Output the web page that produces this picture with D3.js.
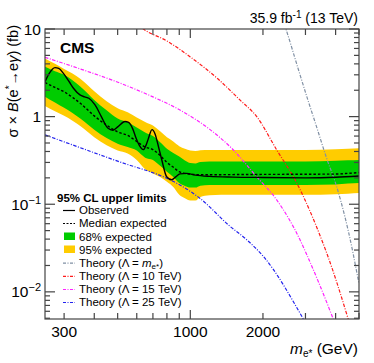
<!DOCTYPE html>
<html><head><meta charset="utf-8">
<script src="https://cdn.jsdelivr.net/npm/d3@7"></script>
<style>
html,body{margin:0;padding:0;background:#fff;}
svg{display:block;font-family:"Liberation Sans",Arial,Helvetica,sans-serif;}
</style></head>
<body>
<svg id="c" width="374" height="363"></svg>
<script>
// ---- data ----
const massExp = [250,275,300,325,350,375,400,450,500,550,600,650,700,750,800,850,900,950,1000,1050,1100,1200,1500,2000,3000,4000,4500,5000];
const expMedian = [2.45,2.15,1.92,1.66,1.42,1.2,1.02,0.80,0.67,0.61,0.52,0.45,0.42,0.36,0.30,0.265,0.235,0.225,0.22,0.218,0.217,0.217,0.218,0.219,0.22,0.221,0.225,0.23];
const exp68Up = [3.7,3.3,3.0,2.6,2.2,1.85,1.55,1.18,0.95,0.86,0.75,0.66,0.60,0.51,0.43,0.385,0.35,0.315,0.295,0.292,0.303,0.308,0.308,0.308,0.308,0.313,0.317,0.32];
const exp68Down = [1.69,1.45,1.26,1.10,0.95,0.82,0.71,0.57,0.49,0.45,0.41,0.34,0.32,0.275,0.235,0.205,0.175,0.162,0.155,0.155,0.163,0.166,0.166,0.166,0.166,0.168,0.172,0.175];
const exp95Up = [4.6,4.0,3.5,3.1,2.7,2.3,1.95,1.5,1.25,1.12,0.98,0.87,0.79,0.68,0.58,0.52,0.46,0.43,0.41,0.405,0.413,0.417,0.417,0.417,0.417,0.425,0.43,0.435];
const exp95Down = [1.32,1.15,1.02,0.9,0.78,0.67,0.58,0.47,0.41,0.38,0.32,0.25,0.225,0.205,0.18,0.157,0.128,0.117,0.11,0.11,0.121,0.127,0.128,0.128,0.128,0.13,0.132,0.134];

const massObs = [250,260,275,285,298,315,328,349,365,380,403,428,455,478,502,536,555,578,593,615,639,655,670,694,715,738,762,798,838,870,906,966,1050,1200,1500,2000,3000,4000,5000];
const observed = [2.5,3.1,3.62,3.55,3.12,2.5,2.11,1.77,1.68,1.62,1.36,1.0,0.74,0.70,0.77,0.88,0.86,0.72,0.59,0.47,0.42,0.47,0.56,0.71,0.63,0.455,0.32,0.206,0.19,0.205,0.222,0.225,0.215,0.208,0.204,0.202,0.2,0.203,0.21];

const massThM = [2400,2490,2800,3070,3300,3670,4040,4720,4890,5000];
const theoryM = [13.5,10,3.5,1.55,0.84,0.336,0.159,0.028,0.017,0.0125];
const massTh10 = [600,639,800,1000,1300,1605,1884,2280,2760,3500,3670,4510,4650];
const theory10 = [11.5,10,7.3,4.8,2.7,1.55,1.0,0.417,0.175,0.0395,0.028,0.0049,0.0037];
const massTh15 = [250,350,495,700,906,1200,1460,1884,2280,2845,3030,3910,4050];
const theory15 = [4.75,3.5,2.5,1.68,1.19,0.72,0.455,0.206,0.112,0.0395,0.027,0.0049,0.0038];
const massTh25 = [250,500,824,906,1096,1460,1710,2005,2940,3050];
const theory25 = [0.618,0.31,0.19,0.166,0.117,0.056,0.0395,0.0255,0.0049,0.0041];

const xTicks = [300,400,500,600,700,800,900,1000,2000,3000,4000,5000];
const xTickLabels = ["300","1000","2000"];
const yMajor = [0.01,0.1,1,10];
const yMajorLabels = [["10","\u22122"],["10","\u22121"],["1",null],["10",null]];

// ---- layout ----
const L=45,R=359,T=29,B=319;
const svg = d3.select("#c");
const x = d3.scaleLog().domain([250,5000]).range([L,R]);
const y = d3.scaleLog().domain([0.0049,10]).range([B,T]);

svg.append("defs").append("clipPath").attr("id","clip")
  .append("rect").attr("x",L).attr("y",T).attr("width",R-L).attr("height",B-T);
const g = svg.append("g").attr("clip-path","url(#clip)");

const band = (lo,hi)=>d3.area()
  .x((d,i)=>x(massExp[i])).y0((d,i)=>y(lo[i])).y1((d,i)=>y(hi[i]))
  .curve(d3.curveMonotoneX)(massExp);

g.append("path").attr("d",band(exp95Down,exp95Up)).attr("fill","#ffcc00");
g.append("path").attr("d",band(exp68Down,exp68Up)).attr("fill","#00cc00");

const lineOf=(xs,ys,curve)=>d3.line().x((d,i)=>x(xs[i])).y((d,i)=>y(ys[i])).curve(curve)(xs);

const theories=[
  [massThM,theoryM,"#8090a4"],
  [massTh10,theory10,"#ff1a1a"],
  [massTh15,theory15,"#ff22ff"],
  [massTh25,theory25,"#2222ee"]
];
theories.forEach(t=>{
  g.append("path").attr("d",lineOf(t[0],t[1],d3.curveMonotoneX))
   .attr("fill","none").attr("stroke",t[2]).attr("stroke-width",1.2)
   .attr("stroke-dasharray","3.5,1.5,1,1.5");
});

g.append("path").attr("d",lineOf(massExp,expMedian,d3.curveMonotoneX))
  .attr("fill","none").attr("stroke","#000").attr("stroke-width",1.4).attr("stroke-dasharray","2.5,2");
g.append("path").attr("d",lineOf(massObs,observed,d3.curveMonotoneX))
  .attr("fill","none").attr("stroke","#000").attr("stroke-width",1.4);

// ---- frame & ticks ----
const ax = svg.append("g").attr("stroke","#444").attr("stroke-width",1.2).attr("fill","none");
ax.append("rect").attr("x",L).attr("y",T).attr("width",R-L).attr("height",B-T);

xTicks.forEach(v=>{
  const len = (v===1000)?9:6;
  const px=x(v);
  ax.append("line").attr("x1",px).attr("x2",px).attr("y1",B).attr("y2",B-len);
  ax.append("line").attr("x1",px).attr("x2",px).attr("y1",T).attr("y2",T+len);
});
xTickLabels.forEach(s=>{
  svg.append("text").attr("x",x(+s)).attr("y",337).attr("text-anchor","middle")
    .attr("font-size",15.5).attr("fill","#000").text(s);
});

// y minor ticks
const yMinor=[];
[0.001,0.01,0.1,1].forEach(dec=>{for(let k=2;k<=9;k++){const v=dec*k; if(v>=0.0049&&v<=10) yMinor.push(v);}});
yMinor.forEach(v=>{
  const py=y(v);
  ax.append("line").attr("x1",L).attr("x2",L+5).attr("y1",py).attr("y2",py);
  ax.append("line").attr("x1",R).attr("x2",R-5).attr("y1",py).attr("y2",py);
});
yMajor.forEach((v,i)=>{
  const py=y(v);
  ax.append("line").attr("x1",L).attr("x2",L+10).attr("y1",py).attr("y2",py);
  ax.append("line").attr("x1",R).attr("x2",R-10).attr("y1",py).attr("y2",py);
  const lab=yMajorLabels[i];
  const t=svg.append("text").attr("x",41).attr("y",py+5.5).attr("text-anchor","end")
    .attr("font-size",15.5).attr("fill","#000");
  t.append("tspan").text(lab[0]);
  if(lab[1]) t.append("tspan").attr("dy",-6).attr("font-size",11).text(lab[1]);
});

// ---- titles ----
svg.append("text").attr("x",60).attr("y",53).attr("font-size",15.5).attr("font-weight","bold").text("CMS");

const lum=svg.append("text").attr("x",358).attr("y",23).attr("text-anchor","end").attr("font-size",14);
lum.append("tspan").text("35.9 fb");
lum.append("tspan").attr("dy",-5).attr("font-size",10).text("-1");
lum.append("tspan").attr("dy",5).text(" (13 TeV)");

const xt=svg.append("text").attr("x",358).attr("y",354).attr("text-anchor","end").attr("font-size",15.5);
xt.append("tspan").attr("font-style","italic").text("m");
xt.append("tspan").attr("dy",3).attr("font-size",10).text("e*");
xt.append("tspan").attr("dy",-3).text(" (GeV)");

const yt=svg.append("text").attr("transform","translate(17.5,25) rotate(-90)").attr("text-anchor","end").attr("font-size",14.5);
yt.append("tspan").text("\u03c3 \u00d7 ");
yt.append("tspan").attr("font-style","italic").text("B");
yt.append("tspan").text("(e");
yt.append("tspan").attr("dy",-5).attr("font-size",10).text("*");
yt.append("tspan").attr("dy",5).text("\u2192e");
yt.append("tspan").attr("font-style","italic").text("\u03b3");
yt.append("tspan").text(") (fb)");

// ---- legend ----
const lg=svg.append("g").attr("font-size",11.5);
lg.append("text").attr("x",57).attr("y",202).attr("font-weight","bold").text("95% CL upper limits");
const items=[
  {t:"Observed",type:"line",dash:null,c:"#000"},
  {t:"Median expected",type:"line",dash:"2,1.5",c:"#000"},
  {t:"68% expected",type:"box",c:"#00cc00"},
  {t:"95% expected",type:"box",c:"#ffcc00"},
  {t:"Theory (\u039b = ",sub:true,type:"line",dash:"3,1.5,1,1.5",c:"#8090a4"},
  {t:"Theory (\u039b = 10 TeV)",type:"line",dash:"3,1.5,1,1.5",c:"#ff1a1a"},
  {t:"Theory (\u039b = 15 TeV)",type:"line",dash:"3,1.5,1,1.5",c:"#ff22ff"},
  {t:"Theory (\u039b = 25 TeV)",type:"line",dash:"3,1.5,1,1.5",c:"#2222ee"}
];
const baselines=[214,227,240.5,253.5,266.7,279.8,293,306];
items.forEach((it,i)=>{
  const by=baselines[i];
  if(it.type==="line"){
    const l=lg.append("line").attr("x1",63).attr("x2",75).attr("y1",by-3.5).attr("y2",by-3.5)
      .attr("stroke",it.c).attr("stroke-width",1.2);
    if(it.dash) l.attr("stroke-dasharray",it.dash);
  } else {
    lg.append("rect").attr("x",64).attr("y",by-8).attr("width",11).attr("height",7.5).attr("fill",it.c);
  }
  const t=lg.append("text").attr("x",79).attr("y",by);
  t.append("tspan").text(it.t);
  if(it.sub){
    t.append("tspan").attr("font-style","italic").text("m");
    t.append("tspan").attr("dy",2.5).attr("font-size",8).text("e*");
    t.append("tspan").attr("dy",-2.5).text(")");
  }
});
</script>
</body></html>
